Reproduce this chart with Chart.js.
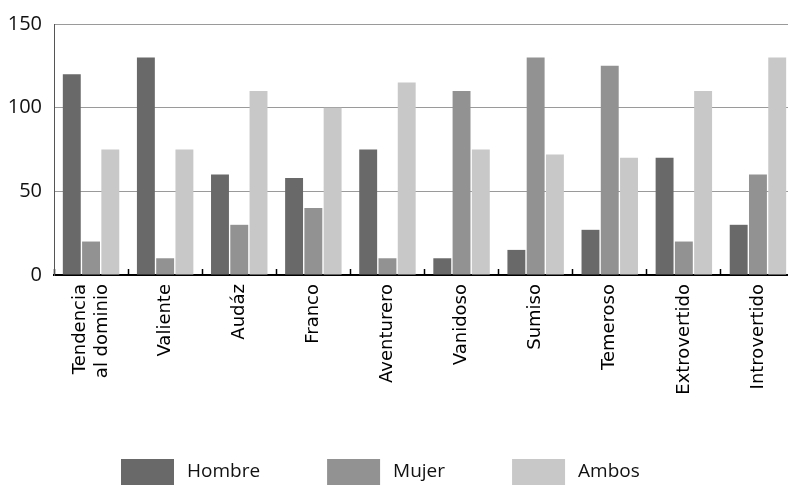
<!DOCTYPE html>
<html>
<head>
<meta charset="utf-8">
<script src="https://cdn.jsdelivr.net/npm/chart.js@4"></script>
<style>
  html, body { margin: 0; padding: 0; overflow: hidden; background: #fff; }
  canvas { display: block; }
</style>
</head>
<body>
<canvas id="chart" width="795" height="485"></canvas>
<script>
// Rasgos evaluados y frecuencia de respuestas por grupo
const categories = [["Tendencia", "al dominio"], "Valiente", "Audáz", "Franco", "Aventurero",
                    "Vanidoso", "Sumiso", "Temeroso", "Extrovertido", "Introvertido"];
const hombre = [120, 130, 60, 58, 75, 10, 15, 27, 70, 30];
const mujer  = [20, 10, 30, 40, 10, 110, 130, 125, 20, 60];
const ambos  = [75, 75, 110, 100, 115, 75, 72, 70, 110, 130];
const yTicks = [0, 50, 100, 150];
const seriesNames = ["Hombre", "Mujer", "Ambos"];
const seriesColors = ["#696969", "#929292", "#c8c8c8"];

// Legend drawn as a single row under the axis labels
const bottomLegend = {
  id: 'bottomLegend',
  afterDraw(chart) {
    const ctx = chart.ctx;
    const boxW = 53, boxH = 26, gap = 13, spacing = 67;
    const top = chart.height - boxH;
    let x = 121;
    ctx.save();
    ctx.font = '19px "Open Sans"';
    ctx.textBaseline = 'middle';
    ctx.textAlign = 'left';
    chart.data.datasets.forEach(ds => {
      ctx.fillStyle = ds.backgroundColor;
      ctx.fillRect(x, top, boxW, boxH);
      ctx.fillStyle = '#111';
      ctx.fillText(ds.label, x + boxW + gap, top + boxH / 2);
      x += boxW + gap + ctx.measureText(ds.label).width + spacing;
    });
    ctx.restore();
  }
};

// Center multi-line rotated category labels on their tick
const centerMultiLine = {
  id: 'centerMultiLine',
  beforeDraw(chart) {
    const scale = chart.scales.x;
    scale.getLabelItems().forEach(item => {
      if (Array.isArray(item.label) && item.label.length > 1 && !item._centered) {
        item.options.translation[0] -= (item.label.length - 1) * item.font.lineHeight / 2;
        item._centered = true;
      }
    });
  }
};

function build() {
  new Chart(document.getElementById('chart'), {
    type: 'bar',
    data: {
      labels: categories,
      datasets: [
        { label: seriesNames[0], data: hombre, backgroundColor: seriesColors[0] },
        { label: seriesNames[1], data: mujer,  backgroundColor: seriesColors[1] },
        { label: seriesNames[2], data: ambos,  backgroundColor: seriesColors[2] }
      ]
    },
    options: {
      responsive: false,
      animation: false,
      devicePixelRatio: 1,
      categoryPercentage: 0.78,
      barPercentage: 0.93,
      layout: { padding: { top: 18, right: 0, bottom: 0, left: 0 } },
      plugins: {
        legend: { display: false },
        tooltip: { enabled: false },
        title: { display: false }
      },
      scales: {
        x: {
          offset: true,
          grid: {
            display: true,
            offset: true,
            drawOnChartArea: false,
            drawTicks: true,
            tickLength: -6,
            tickColor: '#000',
            tickWidth: 1.5
          },
          border: { display: true, color: '#000', width: 2 },
          ticks: {
            autoSkip: false,
            minRotation: 90,
            maxRotation: 90,
            padding: 15,
            color: '#000',
            font: { family: '"DejaVu Sans"', size: 18, lineHeight: 1.2 }
          },
          afterFit(scale) { scale.height = 210; }
        },
        y: {
          min: 0,
          max: 150,
          afterBuildTicks(scale) { scale.ticks = yTicks.map(v => ({ value: v })); },
          grid: { color: '#9a9a9a', lineWidth: 1, drawTicks: false },
          border: { display: true, color: '#555', width: 1 },
          ticks: {
            padding: 12,
            color: '#111',
            font: { family: '"Open Sans"', size: 20 }
          },
          afterFit(scale) { scale.width = 54; }
        }
      }
    },
    plugins: [centerMultiLine, bottomLegend]
  });
}

const fontsReady = document.fonts
  ? Promise.all([
      document.fonts.load('19px "Open Sans"'),
      document.fonts.load('20px "Open Sans"'),
      document.fonts.load('18px "DejaVu Sans"')
    ]).catch(() => {})
  : Promise.resolve();
fontsReady.then(build);
</script>
</body>
</html>
